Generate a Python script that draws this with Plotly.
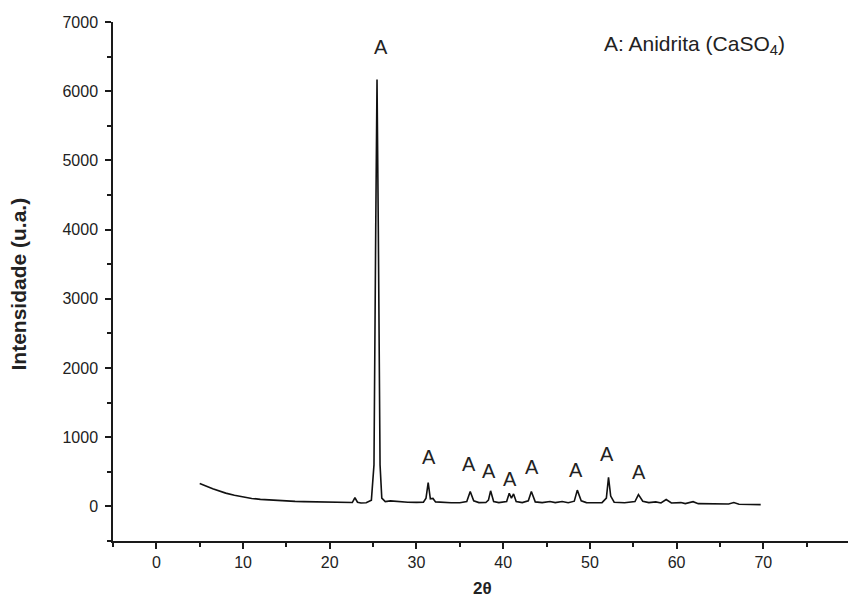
import plotly.graph_objects as go

# 2-theta positions (degrees) and intensities (a.u.)
two_theta = [5.0, 5.5, 6.0, 6.5, 7.0, 7.5, 8.0, 9.0, 10.0, 11.0, 12.0, 13.0, 14.0, 15.0,
             16.0, 17.0, 18.0, 19.0, 20.0, 21.0, 22.0, 22.6, 22.9, 23.2, 23.6, 24.2, 24.8,
             25.1, 25.3, 25.45, 25.6, 25.8, 26.0, 26.4, 27.0, 28.0, 29.0, 30.0, 30.8, 31.1,
             31.35, 31.6, 31.9, 32.2, 33.0, 34.0, 35.0, 35.8, 36.2, 36.6, 37.2, 38.0, 38.3,
             38.55, 38.9, 39.5, 40.4, 40.7, 40.95, 41.2, 41.5, 42.2, 42.9, 43.25, 43.7, 44.5,
             45.4, 46.0, 46.8, 47.5, 48.2, 48.55, 49.0, 49.6, 50.5, 51.4, 51.9, 52.15, 52.4,
             52.8, 54.0, 55.2, 55.6, 56.1, 56.8, 57.6, 58.2, 58.8, 59.4, 60.5, 61.0, 61.9,
             62.5, 64.0, 65.2, 66.0, 66.6, 67.2, 68.5, 69.7]
intensity = [330, 300, 280, 255, 232, 212, 192, 160, 135, 115, 102, 92, 85, 78,
             73, 69, 65, 62, 60, 57, 55, 56, 125, 60, 50, 52, 90,
             600, 4000, 6170, 4000, 600, 120, 70, 80, 65, 60, 58, 62, 120,
             345, 110, 115, 65, 55, 52, 52, 70, 215, 80, 55, 56, 90,
             225, 70, 55, 70, 190, 120, 180, 70, 55, 80, 215, 65, 55,
             70, 55, 70, 52, 75, 235, 80, 55, 52, 55, 120, 420, 150,
             60, 52, 70, 170, 75, 55, 65, 50, 100, 50, 55, 40, 68,
             40, 35, 40, 35, 55, 32, 28, 25]

# peak labels
label_x = [25.95, 31.4, 36.1, 38.4, 40.8, 43.3, 48.4, 52.0, 55.7]
label_y = [6640, 720, 620, 505, 390, 575, 520, 760, 490]
label_text = ["A"] * len(label_x)

x_ticks = [0, 10, 20, 30, 40, 50, 60, 70, 80]
y_ticks = [0, 1000, 2000, 3000, 4000, 5000, 6000, 7000]

FONT = "Liberation Sans, Arial, Helvetica, sans-serif"
INK = "#1a1a1a"

fig = go.Figure()
fig.add_trace(go.Scatter(x=two_theta, y=intensity, mode="lines",
                         line=dict(color="#111", width=1.6), showlegend=False,
                         hoverinfo="x+y"))

for lx, ly, lt in zip(label_x, label_y, label_text):
    fig.add_annotation(x=lx, y=ly, text=lt, showarrow=False, xref="x", yref="y",
                       font=dict(family=FONT, size=20, color="#222"))

fig.add_annotation(x=0.663, y=0.955, xref="paper", yref="paper", xanchor="left",
                   yanchor="middle", showarrow=False,
                   text="A: Anidrita (CaSO<sub>4</sub>)",
                   font=dict(family=FONT, size=21, color="#222"))

fig.add_annotation(x=0, y=0.5, xref="paper", yref="paper", textangle=-90,
                   xanchor="center", yanchor="middle", xshift=-95, yshift=-3,
                   showarrow=False, text="<b>Intensidade (u.a.)</b>",
                   font=dict(family=FONT, size=21, color="#222"))
fig.add_annotation(x=0.5007, y=0, xref="paper", yref="paper", showarrow=False,
                   xanchor="center", yanchor="middle", yshift=-47,
                   text="<b>2θ</b>", font=dict(family=FONT, size=17, color="#222"))

axis_common = dict(showline=True, linecolor=INK, linewidth=1.5, showgrid=False,
                   zeroline=False, ticks="outside", ticklen=6, tickwidth=1.5,
                   tickcolor=INK, mirror=False,
                   tickfont=dict(family=FONT, size=16, color="#222"))

fig.update_layout(
    width=848, height=599,
    margin=dict(l=105, r=6, t=11, b=66),
    plot_bgcolor="white", paper_bgcolor="white",
    xaxis=dict(range=[-5, 80], tickvals=x_ticks,
               minor=dict(dtick=5, tick0=0, ticks="outside", ticklen=4, tickwidth=1.5,
                          tickcolor=INK, showgrid=False),
               **axis_common),
    yaxis=dict(range=[-500, 7000], tickvals=y_ticks, ticklabelstandoff=4,
               minor=dict(dtick=500, tick0=0, ticks="outside", ticklen=4, tickwidth=1.5,
                          tickcolor=INK, showgrid=False),
               **axis_common),
)

fig.write_html("out.html")
